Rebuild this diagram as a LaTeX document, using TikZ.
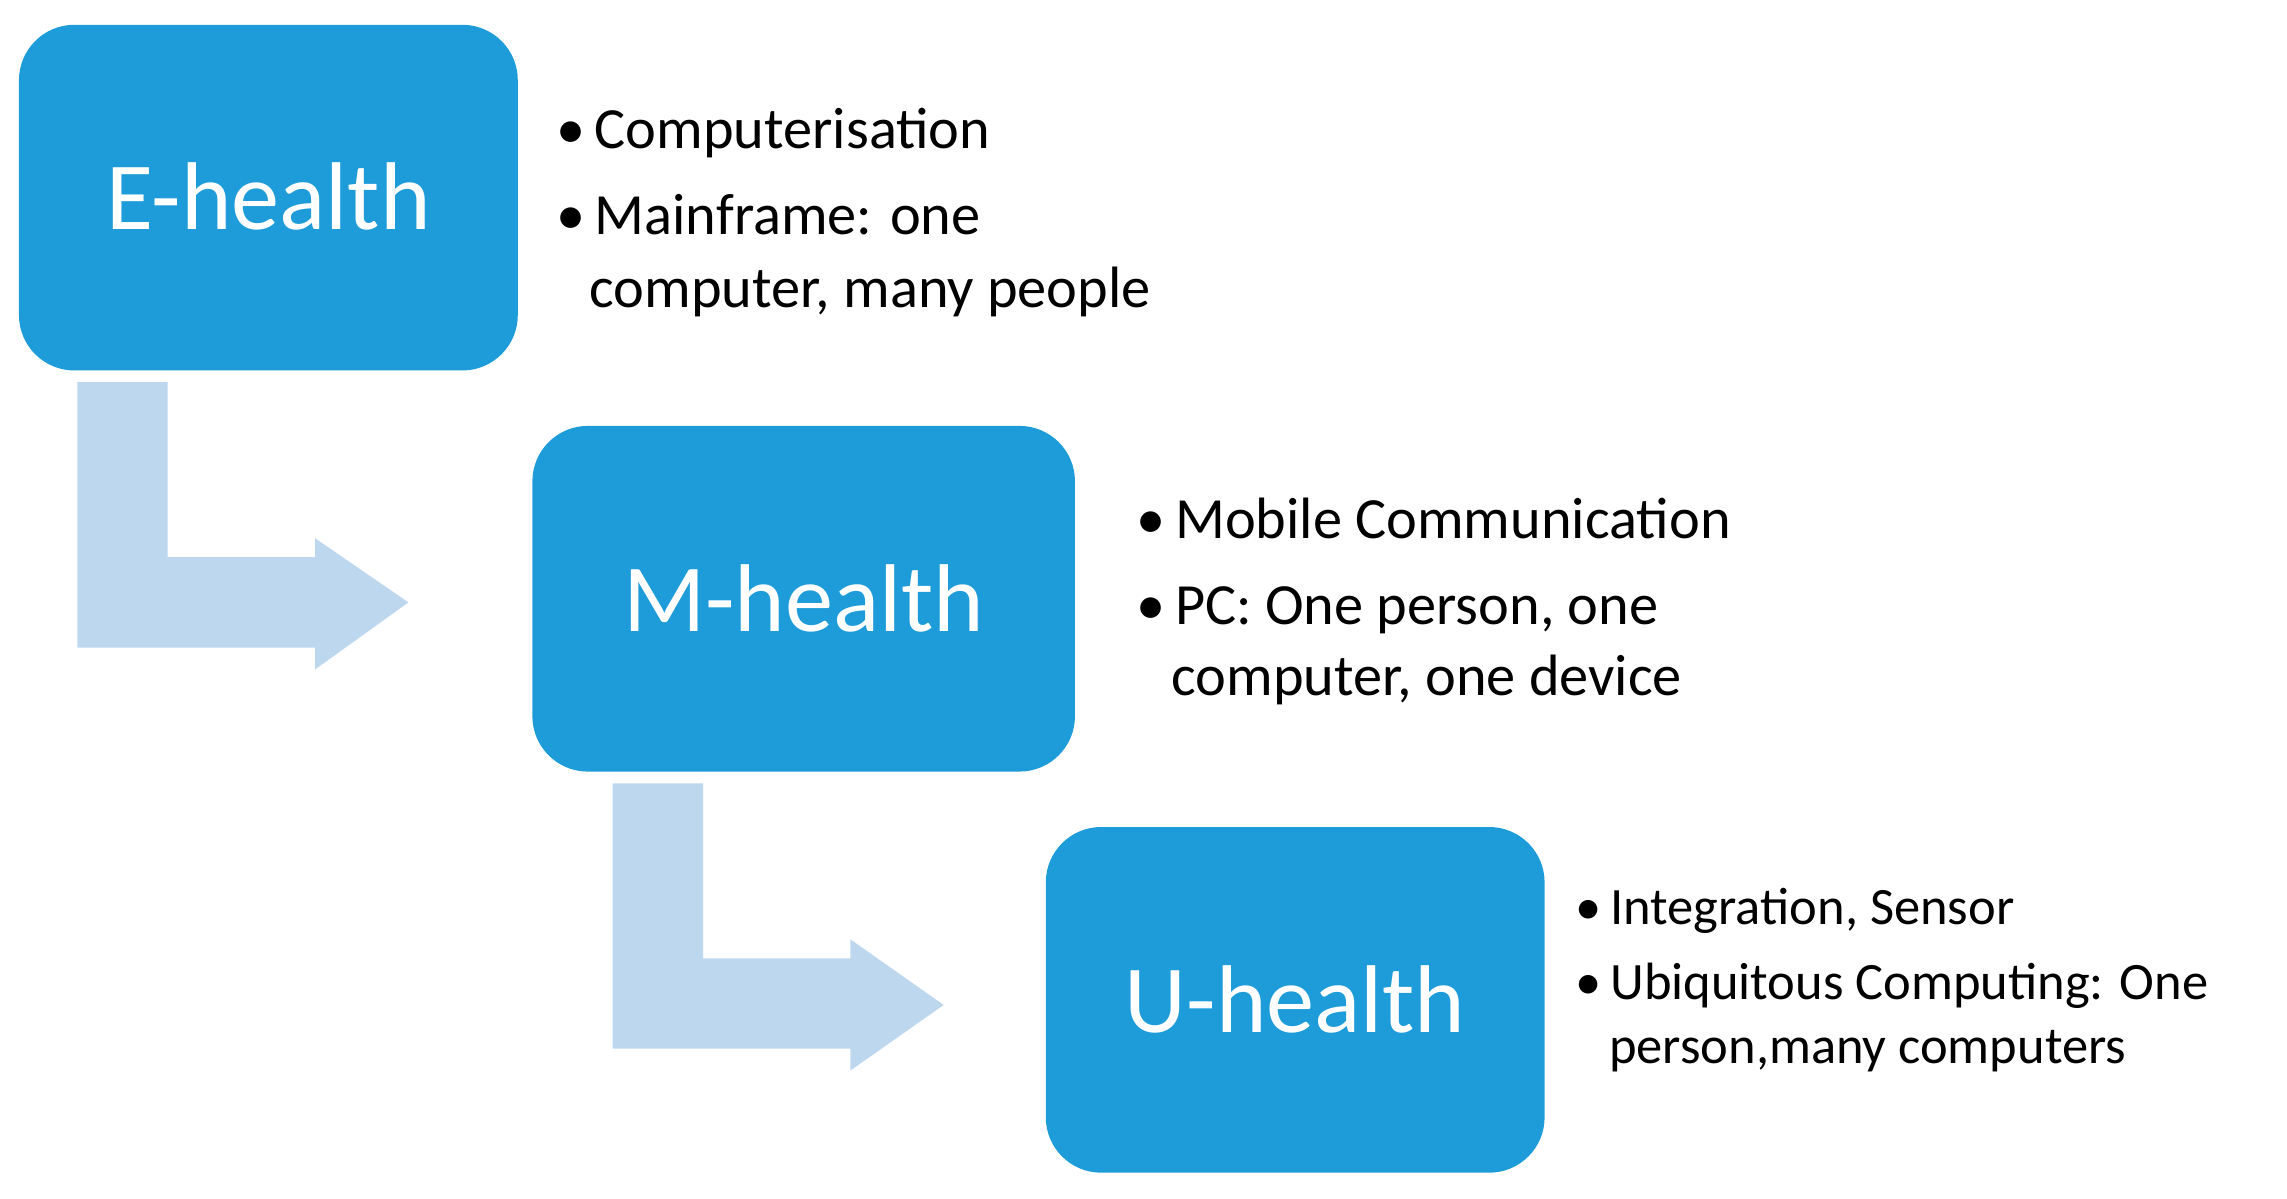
\documentclass[tikz,border=0pt]{standalone}
\usepackage{fontspec}
\setmainfont{Carlito}
\definecolor{boxc}{HTML}{1E9CD9}
\definecolor{arrc}{HTML}{BDD7EE}
\begin{document}
\begin{tikzpicture}[x=1pt,y=-1pt,
  hbox/.style={fill=boxc,rounded corners=38pt,draw=none},
  hlab/.style={text=white,font=\fontsize{66}{70}\selectfont},
  itm/.style={anchor=base west,inner sep=0pt,font=\fontsize{40}{44}\selectfont},
  itms/.style={anchor=base west,inner sep=0pt,font=\fontsize{36}{40}\selectfont}]
\useasboundingbox (0,0) rectangle (1568,822);
% arrows
\fill[arrc] (53,262)--(115,262)--(115,382)--(216,382)--(216,369)--(280,413)--(216,459)--(216,444)--(53,444)--cycle;
\fill[arrc] (420,537)--(482,537)--(482,657)--(583,657)--(583,644)--(647,689)--(583,734)--(583,719)--(420,719)--cycle;
% boxes
\fill[hbox] (13,17) rectangle (355,254);
\fill[hbox] (365,292) rectangle (737,529);
\fill[hbox] (717,567) rectangle (1059,804);
\node[hlab] (e) at (184,135) {E-health};
\node[hlab] (m) at (551,410) {M-health};
\node[hlab] (u) at (888,685) {U-health};
% E list
\node[itm] (e1) at (381,102) {•\,Computerisation};
\node[itm] (e2) at (381,161) {•\,Mainframe: one};
\node[itm] (e3) at (404,211) {computer, many people};
% M list
\node[itm] (m1) at (779,369) {•\,Mobile Communication};
\node[itm] (m2) at (779,428) {•\,PC: One person, one};
\node[itm] (m3) at (803,477) {computer, one device};
% U list
\node[itms] (u1) at (1080,634) {•\,Integration, Sensor};
\node[itms] (u2) at (1080,685) {•\,Ubiquitous Computing: One};
\node[itms] (u3) at (1103,729) {person,many computers};
\end{tikzpicture}
\end{document}
